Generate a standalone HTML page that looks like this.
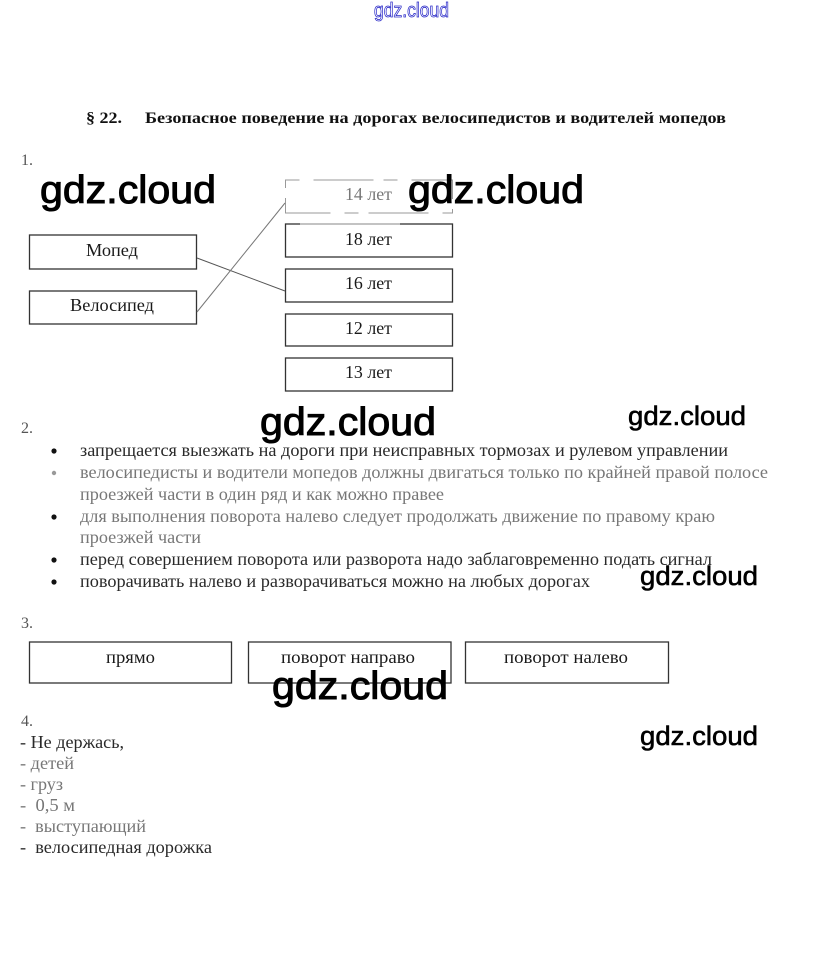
<!DOCTYPE html>
<html lang="ru">
<head>
<meta charset="utf-8">
<title>§ 22</title>
<style>
html,body{margin:0;padding:0;background:#fff;width:823px;height:959px;overflow:hidden}
svg{display:block}
text{font-family:"Liberation Serif","DejaVu Serif",serif;font-size:17.5px;fill:#1a1a1a}
.b{font-weight:bold;font-size:16px;fill:#111}
.n{fill:#555;font-size:16px}
.f{fill:#777}
.t{fill:#2a2a2a}
.w{font-family:"Liberation Sans","DejaVu Sans",sans-serif;fill:#000;stroke:#000;stroke-width:1px;font-size:39px}
.s{font-size:27px;stroke-width:.6px}
.top{font-family:"Liberation Sans",sans-serif;font-size:20px;fill:#fff;stroke:#2a2ac8;stroke-width:.8px}
rect{fill:#fff;stroke:#333;stroke-width:1.3px}
line{stroke:#555;stroke-width:1px}
.p{fill:#fff;stroke:none}
</style>
</head>
<body>
<svg width="823" height="959" viewBox="0 0 823 959" xmlns="http://www.w3.org/2000/svg">
<defs><filter id="bl" x="-20%" y="-20%" width="140%" height="140%"><feGaussianBlur stdDeviation="2"/></filter></defs>
<text class="top" x="374" y="17" textLength="75" lengthAdjust="spacingAndGlyphs">gdz.cloud</text>

<text class="b" x="86" y="123" textLength="36" lengthAdjust="spacingAndGlyphs">§ 22.</text>
<text class="b" x="145" y="123" textLength="581" lengthAdjust="spacingAndGlyphs">Безопасное поведение на дорогах велосипедистов и водителей мопедов</text>

<text class="n" x="21" y="165">1.</text>

<rect x="29.5" y="235" width="167" height="34"/>
<rect x="29.5" y="291" width="167" height="33"/>
<text x="86" y="256" textLength="52" lengthAdjust="spacingAndGlyphs">Мопед</text>
<text x="70" y="311" textLength="84" lengthAdjust="spacingAndGlyphs">Велосипед</text>

<rect x="285.5" y="180" width="167" height="33" style="stroke:#999;stroke-dasharray:14 14 60 10;stroke-width:1px"/>
<rect x="285.5" y="224" width="167" height="33"/>
<rect x="285.5" y="269" width="167" height="33"/>
<rect x="285.5" y="314" width="167" height="32"/>
<rect x="285.5" y="358" width="167" height="33"/>
<rect class="p" x="300" y="221" width="100" height="5" style="opacity:.55"/>

<line x1="197" y1="258" x2="285" y2="291"/>
<line x1="197" y1="312" x2="285" y2="203" style="stroke:#777"/>

<text class="f" x="345" y="200" textLength="47" lengthAdjust="spacingAndGlyphs">14 лет</text>
<text x="345" y="245" textLength="47" lengthAdjust="spacingAndGlyphs">18 лет</text>
<text x="345" y="289" textLength="47" lengthAdjust="spacingAndGlyphs">16 лет</text>
<text x="345" y="334" textLength="47" lengthAdjust="spacingAndGlyphs">12 лет</text>
<text x="345" y="378" textLength="47" lengthAdjust="spacingAndGlyphs">13 лет</text>

<text class="n" x="21" y="433">2.</text>
<circle cx="54" cy="451" r="2.6" fill="#111"/>
<circle cx="54" cy="473" r="2.2" fill="#999"/>
<circle cx="54" cy="517" r="2.6" fill="#111"/>
<circle cx="54" cy="560" r="2.6" fill="#111"/>
<circle cx="54" cy="582" r="2.6" fill="#111"/>
<text class="t" x="80" y="456" textLength="648" lengthAdjust="spacingAndGlyphs">запрещается выезжать на дороги при неисправных тормозах и рулевом управлении</text>
<text class="f" x="80" y="478" textLength="688" lengthAdjust="spacingAndGlyphs">велосипедисты и водители мопедов должны двигаться только по крайней правой полосе</text>
<text class="f" x="80" y="500" textLength="364" lengthAdjust="spacingAndGlyphs">проезжей части в один ряд и как можно правее</text>
<text class="f" x="80" y="522" textLength="635" lengthAdjust="spacingAndGlyphs">для выполнения поворота налево следует продолжать движение по правому краю</text>
<text class="f" x="80" y="543" textLength="121" lengthAdjust="spacingAndGlyphs">проезжей части</text>
<text class="t" x="80" y="565" textLength="632" lengthAdjust="spacingAndGlyphs">перед совершением поворота или разворота надо заблаговременно подать сигнал</text>
<text class="t" x="80" y="587" textLength="510" lengthAdjust="spacingAndGlyphs">поворачивать налево и разворачиваться можно на любых дорогах</text>

<text class="n" x="21" y="628">3.</text>
<rect x="29.5" y="642" width="202" height="41"/>
<rect x="248.5" y="642" width="202.500" height="41"/>
<rect x="465.5" y="642" width="203" height="41"/>
<text x="106" y="663" textLength="49" lengthAdjust="spacingAndGlyphs">прямо</text>
<text x="281" y="663" textLength="134" lengthAdjust="spacingAndGlyphs">поворот направо</text>
<text x="504" y="663" textLength="124" lengthAdjust="spacingAndGlyphs">поворот налево</text>

<text class="n" x="21" y="726">4.</text>
<text class="t" x="20" y="748" textLength="104" lengthAdjust="spacingAndGlyphs">- Не держась,</text>
<text class="f" x="20" y="769" textLength="54" lengthAdjust="spacingAndGlyphs">- детей</text>
<text class="f" x="20" y="790" textLength="43" lengthAdjust="spacingAndGlyphs">- груз</text>
<text class="f" x="20" y="811" textLength="55" lengthAdjust="spacingAndGlyphs" xml:space="preserve">-  0,5 м</text>
<text class="f" x="20" y="832" textLength="126" lengthAdjust="spacingAndGlyphs" xml:space="preserve">-  выступающий</text>
<text class="t" x="20" y="853" textLength="192" lengthAdjust="spacingAndGlyphs" xml:space="preserve">-  велосипедная дорожка</text>

<text class="w" x="40" y="203" textLength="176" lengthAdjust="spacingAndGlyphs">gdz.cloud</text>
<text class="w" x="408" y="203" textLength="176" lengthAdjust="spacingAndGlyphs">gdz.cloud</text>
<text class="w" x="260" y="435" textLength="176" lengthAdjust="spacingAndGlyphs">gdz.cloud</text>
<text class="w" x="272" y="699" textLength="176" lengthAdjust="spacingAndGlyphs">gdz.cloud</text>
<text class="w s" x="628" y="425" textLength="118" lengthAdjust="spacingAndGlyphs">gdz.cloud</text>
<text class="w s" x="640" y="585" textLength="118" lengthAdjust="spacingAndGlyphs">gdz.cloud</text>
<text class="w s" x="640" y="745" textLength="118" lengthAdjust="spacingAndGlyphs">gdz.cloud</text>
</svg>
</body>
</html>
